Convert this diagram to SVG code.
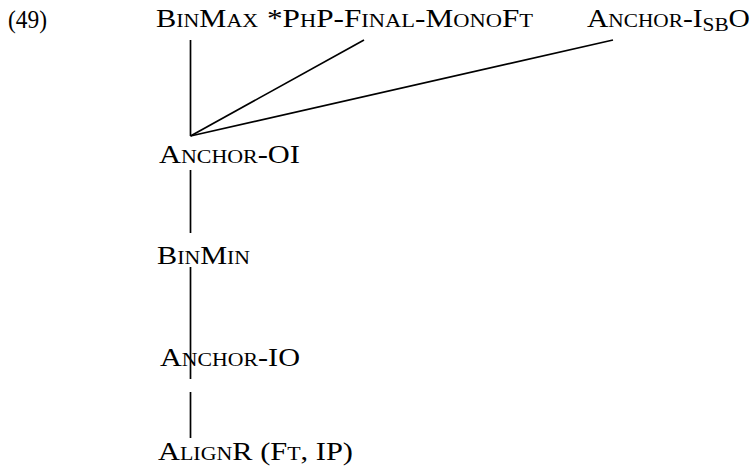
<svg xmlns="http://www.w3.org/2000/svg" width="754" height="470" viewBox="0 0 754 470">
<style>
text{font-family:"Liberation Serif","Times New Roman",serif;font-size:25px;fill:#000;font-variant:small-caps}
.c line{stroke:#000;stroke-width:1.7;fill:none}
</style>
<rect width="754" height="470" fill="#fff"/>
<g class="c" id="connectors">
<line x1="190.5" y1="40" x2="190.5" y2="136"/>
<line x1="190.5" y1="136" x2="364" y2="40"/>
<line x1="190.5" y1="136" x2="613" y2="40"/>
<line x1="190.5" y1="170" x2="190.5" y2="233"/>
<line x1="190.5" y1="267" x2="190.5" y2="379"/>
<line x1="190.5" y1="392" x2="190.5" y2="438"/>
</g>
<g id="ex"><text x="8" y="28" textLength="39" lengthAdjust="spacingAndGlyphs" style="font-variant:normal">(49)</text></g>
<g id="binmax"><text x="156" y="27" textLength="102" lengthAdjust="spacingAndGlyphs">BinMax</text></g>
<g id="php"><text x="267" y="27" textLength="266" lengthAdjust="spacingAndGlyphs">*PhP-Final-MonoFt</text></g>
<g id="anchor-isbo"><text x="587" y="27" textLength="163" lengthAdjust="spacingAndGlyphs">Anchor-I<tspan dy="4">sb</tspan><tspan dy="-4">O</tspan></text></g>
<g id="anchor-oi"><text x="159" y="163" textLength="141" lengthAdjust="spacingAndGlyphs">Anchor-OI</text></g>
<g id="binmin"><text x="157" y="264" textLength="93" lengthAdjust="spacingAndGlyphs">BinMin</text></g>
<g id="anchor-io"><text x="160" y="366" textLength="140" lengthAdjust="spacingAndGlyphs">Anchor-IO</text></g>
<g id="alignr"><text x="158" y="460" textLength="195" lengthAdjust="spacingAndGlyphs">AlignR (Ft, IP)</text></g>
</svg>
